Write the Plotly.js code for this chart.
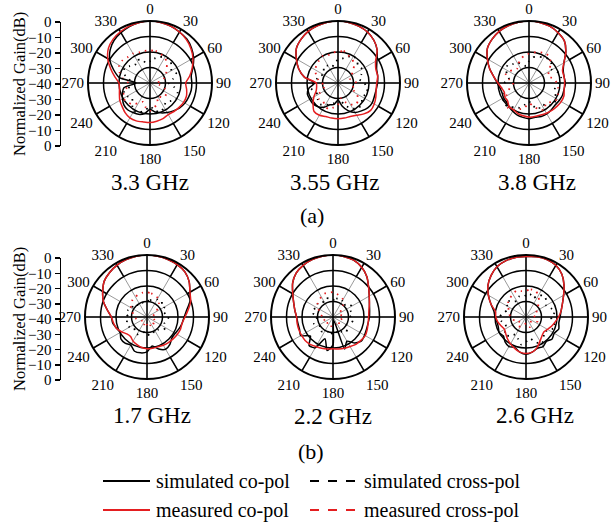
<!DOCTYPE html>
<html><head><meta charset="utf-8">
<script src="https://cdn.plot.ly/plotly-3.0.1.min.js"></script>
<style>html,body{margin:0;padding:0;background:#fff}#chart{width:616px;height:522px}</style>
</head><body><div id="chart"></div>
<script>
// ---------------- data ----------------
const angles = [0,10,20,30,40,50,60,70,80,90,100,110,120,130,140,150,160,170,180,190,200,210,220,230,240,250,260,270,280,290,300,310,320,330,340,350];
const angleTicks = [0,30,60,90,120,150,180,210,240,270,300,330];
const angleTickLabels = ["0","30","60","90","120","150","180","210","240","270","300","330"];
const gainTickVals = [-40,-30,-20,-10,0,10,20,30,40];
const gainTickText = ["0","\u221210","\u221220","\u221230","\u221240","\u221230","\u221220","\u221210","0"];
const gainTitle = "Normalized Gain(dB)";
const freqLabels = ["3.3 GHz","3.55 GHz","3.8 GHz","1.7 GHz","2.2 GHz","2.6 GHz"];
const panelLabels = ["(a)","(b)"];
const legendLabels = ["simulated co-pol","simulated cross-pol","measured co-pol","measured cross-pol"];

// 3.3 GHz
const simCo_33   = [0,-0.3,-1,-2,-3,-5,-7.5,-10.5,-13,-13,-13,-13.5,-14,-15,-16.5,-18,-19.5,-21,-23,-20,-18.5,-18,-17.5,-18,-19.5,-21,-23,-31,-20,-15,-10,-6.5,-4,-2.5,-1.2,-0.4];
const simX_33    = [-26,-24,-22,-21,-20,-22,-24,-22,-25,-28,-24,-21,-20,-22,-24,-22,-20,-22,-25,-22,-20,-19,-22,-25,-23,-22,-27,-30,-26,-22,-21,-23,-25,-23,-24,-27];
const measCo_33  = [0,-0.3,-1,-2,-3.5,-5.5,-8,-11,-14,-17,-16,-15,-15,-15.5,-16,-16.5,-15.5,-15,-14.5,-14.5,-14,-14,-15,-16.5,-17.5,-19,-20,-20,-17,-13,-8.5,-5,-3,-1.8,-1,-0.3];
const measX_33   = [-19,-19,-20,-21,-23,-26,-28,-30,-33,-36,-34,-30,-28,-27,-28,-30,-26,-24,-22,-24,-27,-25,-22,-21,-20,-22,-25,-26,-22,-19,-17,-17,-18,-18,-19,-19];
// 3.55 GHz
const simCo_355  = [0,-0.3,-1,-2,-4,-7,-11,-13.5,-14,-14.5,-15,-15,-14.5,-15,-16.5,-18,-21,-25,-29,-26,-25,-22,-20,-19,-19,-19,-21,-25,-18,-13,-9,-5,-3,-1.5,-0.8,-0.2];
const simX_355   = [-25,-24,-22,-20,-21,-23,-22,-24,-26,-23,-21,-20,-22,-20,-19,-21,-24,-28,-30,-27,-25,-24,-22,-23,-25,-24,-22,-24,-26,-27,-29,-28,-26,-27,-29,-27];
const measCo_355 = [0,-0.3,-1,-2,-4,-7,-12,-14,-14,-15,-15,-14,-13,-12.5,-14,-16,-17,-17,-17,-17,-17,-16,-16,-19,-22,-25,-26,-26,-18,-13,-9,-5,-3,-1.5,-0.8,-0.2];
const measX_355  = [-20,-19,-21,-22,-24,-27,-30,-32,-30,-28,-29,-31,-26,-23,-22,-24,-27,-30,-26,-24,-22,-23,-25,-24,-26,-30,-32,-29,-27,-25,-23,-22,-21,-20,-21,-20];
// 3.8 GHz
const simCo_38   = [0,-0.3,-1,-2.5,-4.5,-9,-14,-16.5,-17,-16.5,-17,-17,-17.5,-18,-17.5,-17,-17,-17.5,-17,-17.5,-18,-19,-20,-21,-21,-21.5,-21,-19.5,-17,-13,-9,-5,-3,-1.5,-0.7,-0.2];
const simX_38    = [-26,-23,-22,-21,-20,-21,-23,-20,-19,-21,-23,-22,-20,-19,-21,-24,-22,-25,-28,-26,-23,-22,-20,-19,-21,-23,-22,-24,-27,-25,-23,-22,-24,-25,-27,-29];
const measCo_38  = [0,-0.3,-1,-2.5,-4.5,-9,-14,-17,-17,-17,-17,-16,-16,-16.5,-17,-17.5,-18,-18,-18,-18.5,-19,-20,-20,-22,-22,-23,-22,-20,-17,-13,-9,-5,-3,-1.5,-0.7,-0.2];
const measX_38   = [-21,-20,-19,-18,-19,-22,-25,-27,-24,-22,-21,-20,-19,-21,-23,-20,-22,-25,-27,-24,-22,-20,-19,-21,-23,-26,-28,-30,-27,-24,-25,-27,-28,-26,-24,-22];
// 1.7 GHz
const simCo_17   = [0,-0.2,-0.5,-1,-2,-4.5,-8,-10.5,-14,-16,-17,-18,-19,-19,-17,-16,-18,-21,-17.5,-16.5,-16.5,-19,-18,-18,-20,-19,-17.5,-17,-14,-10,-7,-4,-2.5,-1.3,-0.6,-0.2];
const simX_17    = [-30,-29,-28,-27,-28,-26,-27,-29,-28,-26,-27,-28,-26,-27,-29,-28,-30,-29,-28,-30,-29,-27,-28,-29,-27,-26,-27,-28,-26,-27,-29,-28,-30,-31,-30,-31];
const measCo_17  = [0,-0.2,-0.5,-1,-2,-4.5,-8,-10,-13,-15.5,-17,-17,-17.5,-18,-18.5,-19,-19.5,-19.5,-19.5,-20,-21,-22,-23.5,-23,-21,-19,-18,-17,-14,-10,-7,-4,-2.5,-1.3,-0.6,-0.2];
const measX_17   = [-24,-24.5,-25,-26,-28,-31,-33,-35,-36,-37,-36,-35,-34,-33,-35,-36,-34,-33,-35,-37,-35,-34,-35,-36,-35,-34,-33,-32,-31,-30,-28,-27,-25.5,-25,-24.5,-24];
// 2.2 GHz
const simCo_22   = [0,-0.3,-1,-3,-6,-10,-13,-15,-16,-16.5,-17,-17,-16.5,-16,-18,-22,-18,-38,-22,-18,-25,-17,-16,-21,-16,-17,-17,-16.5,-15,-13,-10,-6,-3,-1.5,-0.6,-0.2];
const simX_22    = [-29,-28,-27,-28,-30,-27,-26,-28,-27,-29,-27,-28,-30,-28,-27,-29,-31,-29,-30,-28,-30,-29,-28,-30,-29,-27,-28,-30,-27,-26,-28,-27,-29,-28,-27,-28];
const measCo_22  = [0,-0.3,-1,-3,-6,-10,-13,-15,-16.5,-17,-17,-16.5,-16,-16.5,-17,-18,-18.5,-19,-19.5,-19,-18.5,-18,-17,-16.5,-16.5,-16.5,-16.5,-16.5,-15,-13,-10,-6,-3,-1.5,-0.6,-0.2];
const measX_22   = [-24,-25,-26,-27,-30,-33,-35,-36,-34,-33,-34,-35,-36,-35,-34,-33,-35,-36,-35,-34,-35,-36,-35,-34,-33,-34,-35,-34,-32,-31,-29,-27,-26,-25,-24,-24];
// 2.6 GHz
const simCo_26   = [-1,-0.5,-0.5,-1.5,-4,-8,-12,-15,-17,-18,-18.5,-17.5,-19,-18,-19.5,-18,-18.5,-17,-16,-17,-19,-18,-19,-21,-20,-21,-21,-20,-19,-16,-12,-8,-5,-2.5,-1.5,-1];
const simX_26    = [-26,-25,-27,-24,-22,-23,-25,-23,-21,-24,-22,-20,-23,-25,-22,-20,-23,-26,-24,-22,-25,-27,-24,-22,-25,-26,-24,-23,-25,-27,-26,-24,-27,-28,-26,-27];
const measCo_26  = [-1,-0.5,-0.5,-1.5,-4,-8,-12,-15,-17,-19,-21,-22.5,-24,-25,-24,-22,-19,-17,-16.5,-17,-18.5,-20,-21.5,-23,-24,-23,-21.5,-20.5,-20,-16,-12,-8,-5,-2.5,-1.5,-1];
const measX_26   = [-23,-22,-22,-24,-27,-30,-32,-33,-35,-34,-33,-32,-33,-35,-36,-34,-33,-35,-36,-35,-34,-33,-32,-34,-35,-33,-31,-30,-29,-28,-27,-25,-24,-23,-22,-23];

// ---------------- geometry / styles ----------------
const W = 616, H = 522, R = 62;
const panels = [
  {cx:150, cy:83,  lx:150, ly:182, d:[simCo_33, simX_33, measCo_33, measX_33]},
  {cx:338, cy:83,  lx:335, ly:182, d:[simCo_355, simX_355, measCo_355, measX_355]},
  {cx:529, cy:83,  lx:537, ly:182, d:[simCo_38, simX_38, measCo_38, measX_38]},
  {cx:147, cy:317, lx:152, ly:415, d:[simCo_17, simX_17, measCo_17, measX_17]},
  {cx:333, cy:317, lx:333, ly:416, d:[simCo_22, simX_22, measCo_22, measX_22]},
  {cx:526, cy:317, lx:535, ly:415, d:[simCo_26, simX_26, measCo_26, measX_26]}
];
const FONT = '"Liberation Serif", "Times New Roman", serif';
const BLACK = '#000000', RED = '#e41e20';
const seriesStyle = [
  {color: BLACK, dash: 'solid', width: 1.5},
  {color: BLACK, dash: '1.5px,5px', width: 1.8},
  {color: RED,   dash: 'solid', width: 1.5},
  {color: RED,   dash: '1.5px,5px', width: 1.8}
];
const drawOrder = [1, 3, 0, 2];

function closeLoop(a){ return a.concat([a[0]]); }
const thetaClosed = closeLoop(angles).map((v,i,arr)=> i===arr.length-1 ? 360 : v);

const px = x => x / W, py = y => 1 - y / H;

const traces = [];
const layout = {
  width: W, height: H,
  margin: {l:0, r:0, t:0, b:0},
  paper_bgcolor: '#fff', plot_bgcolor: '#fff',
  showlegend: false,
  font: {family: FONT, color: '#000'},
  annotations: [], shapes: []
};

panels.forEach((p, i) => {
  const key = i === 0 ? 'polar' : 'polar' + (i + 1);
  layout[key] = {
    domain: {x: [px(p.cx - R), px(p.cx + R)], y: [py(p.cy + R), py(p.cy - R)]},
    bgcolor: '#fff',
    angularaxis: {
      rotation: 90, direction: 'clockwise', thetaunit: 'degrees',
      tickmode: 'array', tickvals: angleTicks, ticktext: angleTickLabels,
      ticks: '', showline: true, linecolor: BLACK, linewidth: 2,
      showgrid: true, gridcolor: '#9a9a9a', gridwidth: 1,
      tickfont: {family: FONT, size: 15, color: BLACK}
    },
    radialaxis: {
      range: [-40, 0], tickmode: 'array', tickvals: [-30, -20, -10],
      showticklabels: false, ticks: '', showline: false,
      gridcolor: BLACK, gridwidth: 1.5
    }
  };
  const sub = key;
  // black spokes overlay: full cross + outer annulus segments
  const sr = [], st = [];
  angleTicks.forEach(a => {
    if (a % 90 === 0) { sr.push(-40, 0, null); } else { sr.push(-10, 0, null); }
    st.push(a, a, null);
  });
  traces.push({type:'scatterpolar', subplot: sub, r: sr, theta: st, mode: 'lines',
    line: {color: BLACK, width: 1.5}, hoverinfo: 'skip', connectgaps: false});
  drawOrder.forEach(k => {
    const s = seriesStyle[k];
    traces.push({type:'scatterpolar', subplot: sub, r: closeLoop(p.d[k]), theta: thetaClosed,
      mode: 'lines', line: {color: s.color, width: s.width, dash: s.dash, shape: 'spline', smoothing: 0.6},
      hoverinfo: 'skip'});
  });
  layout.annotations.push({xref:'paper', yref:'paper', x: px(p.lx), y: py(p.ly), text: freqLabels[i],
    showarrow: false, xanchor: 'center', yanchor: 'middle', font: {family: FONT, size: 23, color: BLACK}});
});

// left gain axes
const gainRows = [{top: 22, bottom: 146, mid: 84}, {top: 258, bottom: 380, mid: 319}];
gainRows.forEach((g, j) => {
  const xa = j === 0 ? 'xaxis' : 'xaxis2', ya = j === 0 ? 'yaxis' : 'yaxis2';
  const xr = j === 0 ? 'x' : 'x2', yr = j === 0 ? 'y' : 'y2';
  layout[xa] = {domain: [px(61), px(70)], anchor: yr, visible: false, range: [0, 1]};
  layout[ya] = {domain: [py(g.bottom), py(g.top)], anchor: xr, range: [-40, 40],
    tickmode: 'array', tickvals: gainTickVals, ticktext: gainTickText,
    ticks: 'outside', ticklen: 5, tickwidth: 1.5, tickcolor: BLACK,
    showline: true, linecolor: BLACK, linewidth: 1.5, showgrid: false, zeroline: false,
    tickfont: {family: FONT, size: 15, color: BLACK}, fixedrange: true};
  traces.push({type: 'scatter', xaxis: xr, yaxis: yr, x: [0.5], y: [0], mode: 'markers',
    marker: {opacity: 0}, hoverinfo: 'skip'});
  layout.annotations.push({xref:'paper', yref:'paper', x: px(19), y: py(g.mid), text: gainTitle,
    textangle: -90, showarrow: false, xanchor: 'center', yanchor: 'middle',
    font: {family: FONT, size: 16.5, color: BLACK}});
});

// panel labels
[[312, 216], [311, 451]].forEach((pos, j) => {
  layout.annotations.push({xref:'paper', yref:'paper', x: px(pos[0]), y: py(pos[1]), text: panelLabels[j],
    showarrow: false, xanchor: 'center', yanchor: 'middle', font: {family: FONT, size: 22, color: BLACK}});
});

// legend (manual)
const legendPos = [
  {x0: 103, x1: 150, tx: 154, y: 481},
  {x0: 310, x1: 357, tx: 362, y: 481},
  {x0: 103, x1: 150, tx: 154, y: 510},
  {x0: 310, x1: 357, tx: 362, y: 510}
];
legendPos.forEach((L, k) => {
  const s = seriesStyle[k];
  layout.shapes.push({type: 'line', xref: 'paper', yref: 'paper', x0: px(L.x0), x1: px(L.x1), y0: py(L.y), y1: py(L.y),
    line: {color: s.color, width: 2, dash: s.dash === 'solid' ? 'solid' : 'dash'}});
  layout.annotations.push({xref:'paper', yref:'paper', x: px(L.tx), y: py(L.y), text: legendLabels[k],
    showarrow: false, xanchor: 'left', yanchor: 'middle', font: {family: FONT, size: 20, color: BLACK}});
});

Plotly.newPlot('chart', traces, layout, {staticPlot: true, displayModeBar: false});
</script>
</body></html>
